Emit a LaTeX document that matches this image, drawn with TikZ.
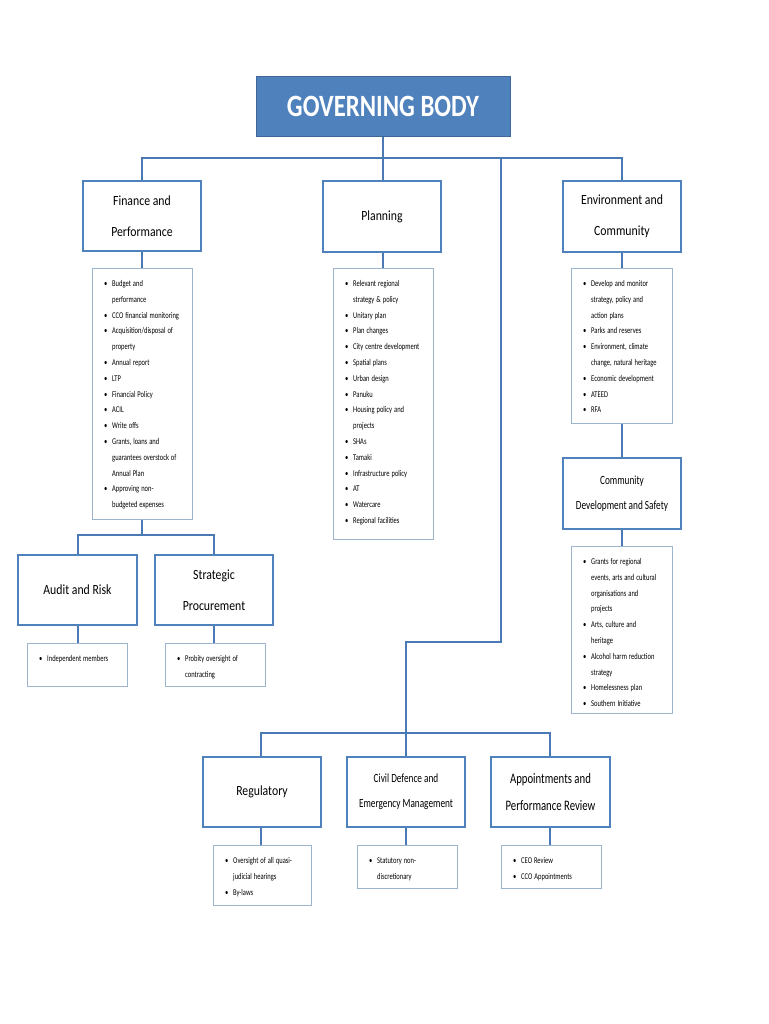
\documentclass[tikz,border=0pt]{standalone}
\usepackage{fontspec}
\setmainfont{Carlito}[FakeStretch=0.84]
\newfontfamily\condf{Carlito}[FakeStretch=0.74]
\newfontfamily\titf{Carlito}[FakeStretch=0.8]
\definecolor{bb}{HTML}{4F81BD}
\definecolor{ln}{HTML}{4A7AB5}
\definecolor{lb}{HTML}{9DB4CF}
\newcommand{\li}[1]{\par\noindent\hangindent=9pt\hangafter=1\makebox[9pt][l]{\hspace{1pt}\textbullet}#1\par}
\begin{document}
\begin{tikzpicture}[x=1pt,y=-1pt,
 hbox/.style={draw=bb,line width=1.6pt,fill=white,align=center,font=\fontsize{14}{31}\selectfont,inner sep=0pt},
 lbox/.style={draw=lb,line width=0.7pt,fill=white,inner sep=0pt},
 con/.style={draw=ln,line width=1.5pt}]
\useasboundingbox (0,0) rectangle (768,1024);
\newcommand{\hb}[6]{\node[hbox,minimum width=#4-#2,minimum height=#5-#3] (#1) at ({(#2+#4)/2},{(#3+#5)/2}) {#6};}
\newcommand{\lbx}[6]{\node[lbox,minimum width=#4-#2,minimum height=#5-#3] (#1) at ({(#2+#4)/2},{(#3+#5)/2}) {};
 \node[anchor=north west,text width=#4-#2-14,font=\condf\fontsize{8.8}{15.8}\selectfont,inner sep=0pt] (#1t) at (#2+11,#3+2.5) {\raggedright\rightskip=0pt plus 1fil\spaceskip=2pt plus 1pt #6};}
% connectors
\draw[con] (383,136) -- (383,158);
\draw[con] (142,181) -- (142,158) -- (622,158) -- (622,181);
\draw[con] (383,158) -- (383,181);
\draw[con] (501,158) -- (501,642) -- (406,642) -- (406,733);
\draw[con] (261,757) -- (261,733) -- (550,733) -- (550,757);
\draw[con] (406,733) -- (406,757);
\draw[con] (142,251) -- (142,268);
\draw[con] (383,252) -- (383,268);
\draw[con] (622,252) -- (622,268);
\draw[con] (142,519) -- (142,535);
\draw[con] (78,555) -- (78,535) -- (214,535) -- (214,555);
\draw[con] (78,625) -- (78,643);
\draw[con] (214,625) -- (214,643);
\draw[con] (622,423) -- (622,458);
\draw[con] (622,529) -- (622,546);
\draw[con] (261,827) -- (261,845);
\draw[con] (406,827) -- (406,845);
\draw[con] (550,827) -- (550,845);
% title
\node[fill=bb,draw=bb!80!black,line width=0.8pt,minimum width=254,minimum height=60,text=white,font=\titf\bfseries\fontsize{31}{32}\selectfont] (gb) at (383,106) {GOVERNING BODY};
% headings
\hb{fin}{83}{181}{201}{251}{Finance and\\Performance}
\hb{pla}{323}{181}{441}{252}{Planning}
\hb{env}{563}{181}{681}{252}{Environment and\\Community}
\hb{aud}{18}{555}{137}{625}{Audit and Risk}
\hb{str}{155}{555}{273}{625}{Strategic\\Procurement}
\node[hbox,minimum width=118,minimum height=71,font=\condf\fontsize{12.5}{25}\selectfont] (com) at (622,493.5) {Community\\Development and Safety};
\hb{reg}{203}{757}{321}{827}{Regulatory}
\node[hbox,minimum width=118,minimum height=70,font=\condf\fontsize{12.5}{25}\selectfont] (civ) at (406,792) {Civil Defence and\\Emergency Management};
\node[hbox,minimum width=119,minimum height=70,font=\condf\fontsize{14.5}{27}\selectfont] (app) at (550.5,792) {Appointments and\\Performance Review};
% lists
\lbx{finl}{92}{268}{192}{519}{\li{Budget and\newline performance}\li{CCO financial monitoring}\li{Acquisition/disposal of\newline property}\li{Annual report}\li{LTP}\li{Financial Policy}\li{ACIL}\li{Write offs}\li{Grants, loans and\newline guarantees overstock of\newline Annual Plan}\li{Approving non-\newline budgeted expenses}}
\lbx{plal}{333}{268}{433}{539}{\li{Relevant regional\newline strategy \& policy}\li{Unitary plan}\li{Plan changes}\li{City centre development}\li{Spatial plans}\li{Urban design}\li{Panuku}\li{Housing policy and\newline projects}\li{SHAs}\li{Tamaki}\li{Infrastructure policy}\li{AT}\li{Watercare}\li{Regional facilities}}
\lbx{envl}{571}{268}{672}{423}{\li{Develop and monitor\newline strategy, policy and\newline action plans}\li{Parks and reserves}\li{Environment, climate\newline change, natural heritage}\li{Economic development}\li{ATEED}\li{RFA}}
\lbx{coml}{571}{546}{672}{713}{\li{Grants for regional\newline events, arts and cultural\newline organisations and\newline projects}\li{Arts, culture and\newline heritage}\li{Alcohol harm reduction\newline strategy}\li{Homelessness plan}\li{Southern Initiative}}
\lbx{audl}{27}{643}{127}{686}{\li{Independent members}}
\lbx{strl}{165}{643}{265}{686}{\li{Probity oversight of\newline contracting}}
\lbx{regl}{213}{845}{311}{905}{\li{Oversight of all quasi-\newline judicial hearings}\li{By-laws}}
\lbx{civl}{357}{845}{457}{888}{\li{Statutory non-\newline discretionary}}
\lbx{appl}{501}{845}{601}{888}{\li{CEO Review}\li{CCO Appointments}}
\end{tikzpicture}
\end{document}
